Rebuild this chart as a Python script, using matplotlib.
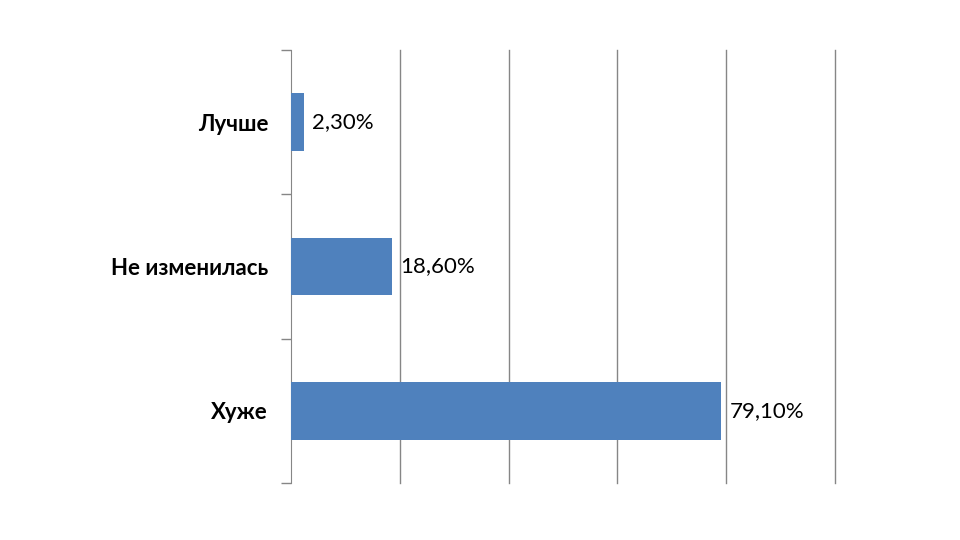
import matplotlib
matplotlib.use("Agg")
import matplotlib.pyplot as plt
import numpy as np

categories = ["Хуже", "Не изменилась", "Лучше"]
values = [79.1, 18.6, 2.3]
labels = ["79,10%", "18,60%", "2,30%"]

plt.rcParams['font.family'] = ['Lato', 'DejaVu Sans']

fig = plt.figure(figsize=(9.6, 5.4), dpi=100)
ax = fig.add_axes([291/960, 1-483/540, (835-291)/960, (483-50)/540])

y = np.arange(len(categories))
ax.barh(y, values, height=0.4, color="#4F81BD", zorder=3)
for yi, v, lab in zip(y, values, labels):
    ax.text(v + 1.5, yi, lab, va="center", ha="left", fontsize=16, color="black", zorder=4)

ax.set_xlim(0, 100)
ax.set_ylim(-0.5, len(categories) - 0.5)
ax.set_xticks([20, 40, 60, 80, 100])
ax.set_xticklabels([])
ax.tick_params(axis='x', length=0)
ax.grid(axis='x', color="#868686", linewidth=1, zorder=0)
for gl in ax.get_xgridlines():
    gl.set_clip_on(False)

ax.set_yticks(y)
ax.set_yticklabels(categories, fontsize=16, fontweight='bold')
ax.tick_params(axis='y', which='major', length=0, pad=16.5)
ax.set_yticks([-0.5, 0.5, 1.5, 2.5], minor=True)
ax.tick_params(axis='y', which='minor', length=7, color="#868686", width=1)

for s in ['top', 'right', 'bottom']:
    ax.spines[s].set_visible(False)
ax.spines['left'].set_color("#868686")

fig.savefig("out.png", dpi=100)
